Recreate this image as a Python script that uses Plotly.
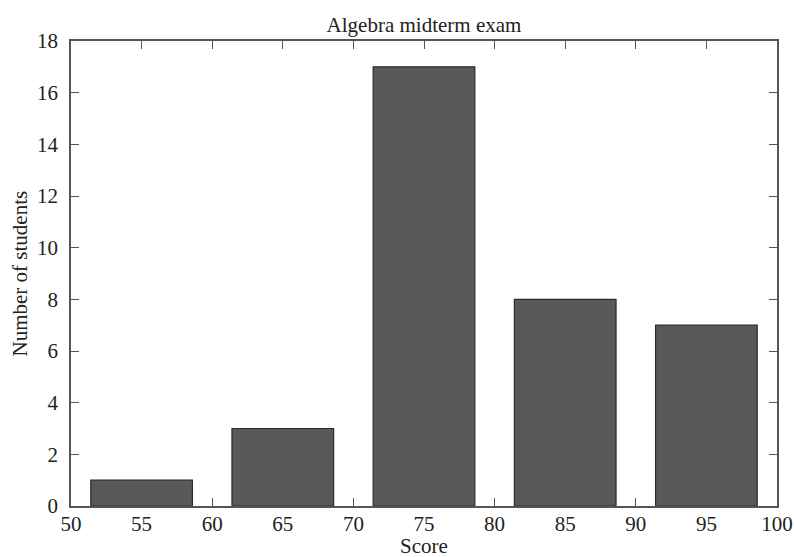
import plotly.graph_objects as go

scores = [55, 65, 75, 85, 95]
counts = [1, 3, 17, 8, 7]
x_ticks = [50, 55, 60, 65, 70, 75, 80, 85, 90, 95, 100]
y_ticks = [0, 2, 4, 6, 8, 10, 12, 14, 16, 18]

FONT = "Liberation Serif, Times New Roman, serif"
FS = 21
W, H = 794, 557
L, R, TOP, BOTTOM = 71, 17, 41, 51
PLOT_W = W - L - R
PLOT_H = H - TOP - BOTTOM

fig = go.Figure(go.Bar(
    x=scores, y=counts, width=7.2,
    marker=dict(color="#58595b", line=dict(color="#2b2b2b", width=1.2)),
))

axis_common = dict(
    showline=True, linecolor="#555555", linewidth=1.5, mirror="ticks",
    ticks="inside", ticklen=8, tickcolor="#555555", tickwidth=1.2,
    showgrid=False, zeroline=False, automargin=False,
    tickfont=dict(family=FONT, size=FS, color="#222222"),
)

txt_font = dict(family=FONT, size=FS, color="#222222")

fig.update_layout(
    width=W, height=H,
    margin=dict(l=L, r=R, t=TOP, b=BOTTOM, autoexpand=False),
    paper_bgcolor="white", plot_bgcolor="white",
    showlegend=False,
    title=dict(text="Algebra midterm exam", x=0.5, xref="paper", xanchor="center",
               y=1 - 25 / H, yref="container", yanchor="middle", font=txt_font),
    xaxis=dict(range=[50, 100], tickvals=x_ticks, ticktext=[str(v) for v in x_ticks],
               ticklabelstandoff=-2, **axis_common),
    yaxis=dict(range=[0, 18], tickvals=y_ticks, ticktext=[str(v) for v in y_ticks],
               ticklabelstandoff=7, **axis_common),
    annotations=[
        dict(text="Score", xref="paper", yref="paper", x=0.5,
             y=-(546 - (H - BOTTOM)) / PLOT_H,
             xanchor="center", yanchor="middle", showarrow=False, font=txt_font),
        dict(text="Number of students", xref="paper", yref="paper",
             x=-(L - 19) / PLOT_W, y=0.5, textangle=-90,
             xanchor="center", yanchor="middle", showarrow=False, font=txt_font),
    ],
)

fig.write_html(
    "out.html",
    config=dict(displayModeBar=False),
    post_script="document.body.style.margin='0';document.body.style.padding='0';"
                "document.body.style.overflow='hidden';",
)
